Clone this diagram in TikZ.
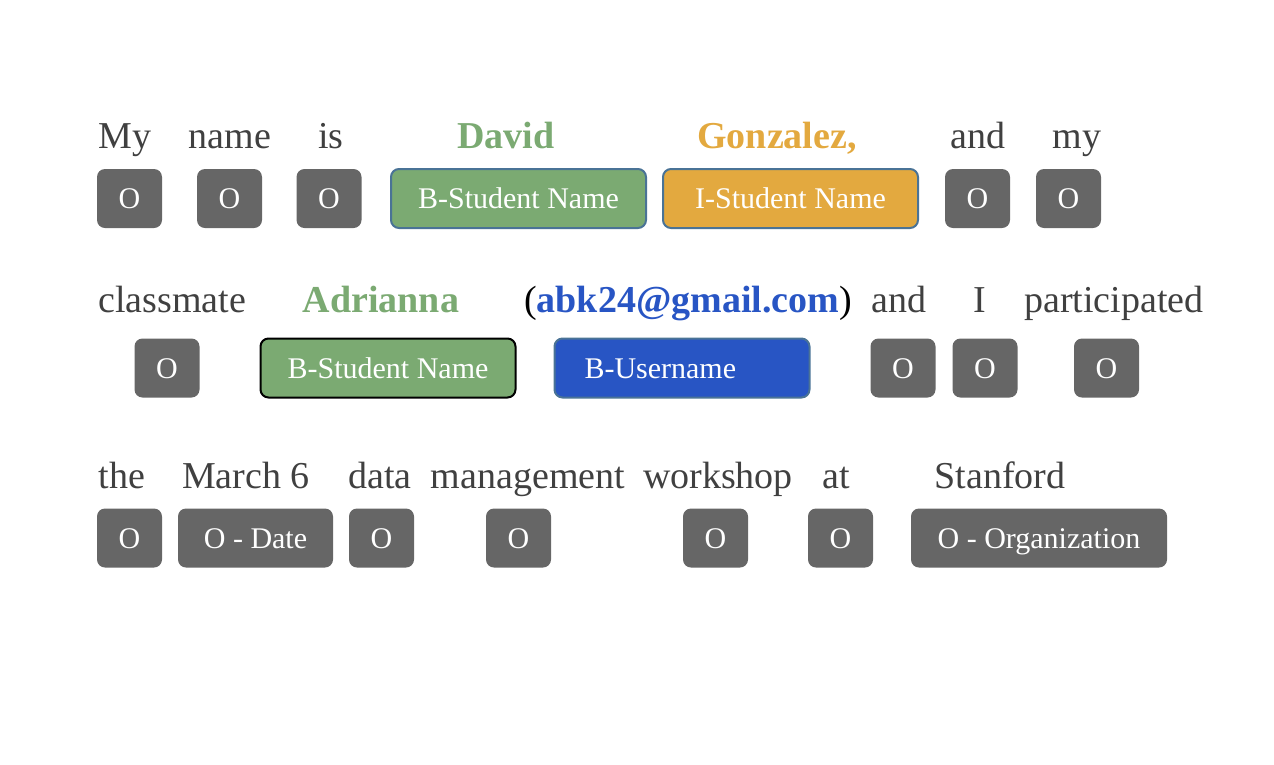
\documentclass[tikz,border=0pt]{standalone}
\usepackage{fontspec}
\setmainfont{Liberation Serif}
\usepackage{tikz}
\usetikzlibrary{positioning}
\usepackage{xcolor}
\definecolor{wordgray}{HTML}{404040}
\definecolor{taggray}{HTML}{666666}
\definecolor{namegreen}{HTML}{7BAA72}
\definecolor{nameorange}{HTML}{E3A93F}
\definecolor{mailblue}{HTML}{2855C4}
\definecolor{edgeblue}{HTML}{4A7396}
\tikzset{
  word/.style={anchor=base, inner sep=0pt, text=wordgray,
               font=\fontsize{38}{42}\selectfont},
  keyword/.style={word, font=\fontsize{38}{42}\selectfont\bfseries},
  tagbox/.style={rounded corners=8pt, minimum height=59pt, inner ysep=0pt,
                 text height=21pt, text depth=1pt, text=white,
                 font=\fontsize{30}{34}\selectfont},
  otag/.style={tagbox, fill=taggray, minimum width=65pt},
  nametag/.style={tagbox, line width=2pt, minimum width=255pt},
}

\begin{document}
\begin{tikzpicture}[x=1pt, y=-1pt]
    \useasboundingbox (0,0) rectangle (1274,764);
    % Row 1 words
    \node[word] (w1) at (125,148) {My};
    \node[word] (w2) at (230,148) {name};
    \node[word] (w3) at (331,148) {is};
    \node[keyword, text=namegreen] (w4) at (506,148) {David};
    \node[keyword, text=nameorange] (w5) at (777,148) {Gonzalez,};
    \node[word] (w6) at (978,148) {and};
    \node[word] (w7) at (1077,148) {my};
    % Row 1 tags
    \node[otag] (t1) at (129.5,198.5) {O};
    \node[otag] (t2) at (229.5,198.5) {O};
    \node[otag] (t3) at (329,198.5) {O};
    \node[nametag, fill=namegreen, draw=edgeblue] (t4) at (518.5,198.5) {B-Student Name};
    \node[nametag, fill=nameorange, draw=edgeblue] (t5) at (790.5,198.5) {I-Student Name};
    \node[otag] (t6) at (977.5,198.5) {O};
    \node[otag] (t7) at (1068.5,198.5) {O};

    % Row 2 words
    \node[word] (w8) at (172,312) {classmate};
    \node[keyword, text=namegreen] (w9) at (381,312) {Adrianna};
    \node[word, text=black] (w10) at (688,312)
      {(\textbf{\textcolor{mailblue}{abk24@gmail.com}})};
    \node[word] (w11) at (899,312) {and};
    \node[word] (w12) at (980,312) {I};
    \node[word] (w13) at (1114,312) {participated};
    % Row 2 tags
    \node[otag] (t8) at (167,368) {O};
    \node[nametag, fill=namegreen, draw=black] (t9) at (388,368) {B-Student Name};
    \node[nametag, fill=mailblue, draw=edgeblue, text width=195pt,
          inner xsep=30pt, align=left] (t10) at (682,368) {B-Username};
    \node[otag] (t11) at (903,368) {O};
    \node[otag] (t12) at (985,368) {O};
    \node[otag] (t13) at (1106.5,368) {O};

    % Row 3 words
    \node[word] (w14) at (122,488) {the};
    \node[word] (w15) at (246,488) {March 6};
    \node[word] (w16) at (380,488) {data};
    \node[word] (w17) at (528,488) {management};
    \node[word] (w18) at (718,488) {workshop};
    \node[word] (w19) at (836,488) {at};
    \node[word] (w20) at (1000,488) {Stanford};
    % Row 3 tags
    \node[otag] (t14) at (129.5,538) {O};
    \node[otag, minimum width=155pt] (t15) at (255.5,538) {O - Date};
    \node[otag] (t16) at (381.5,538) {O};
    \node[otag] (t17) at (518.5,538) {O};
    \node[otag] (t18) at (715.5,538) {O};
    \node[otag] (t19) at (840.5,538) {O};
    \node[otag, minimum width=256pt] (t20) at (1039,538) {O - Organization};
\end{tikzpicture}
\end{document}
